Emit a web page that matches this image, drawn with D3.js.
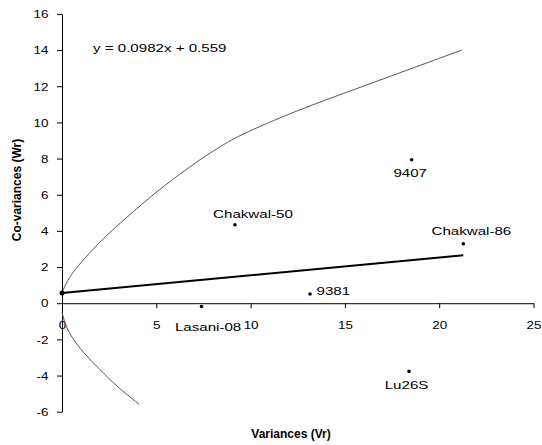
<!DOCTYPE html>
<html>
<head>
<meta charset="utf-8">
<script src="https://cdn.jsdelivr.net/npm/d3@7"></script>
<style>
  html, body { margin: 0; padding: 0; background: #fff; }
  svg { display: block; font-family: Arial, "Liberation Sans", sans-serif; }
</style>
</head>
<body>
<svg id="chart" width="542" height="445"></svg>
<script>
// Vr–Wr graph: array variances against parent–offspring co-variances
const genotypes = ["Chakwal-50", "Chakwal-86", "9407", "9381", "Lasani-08", "Lu26S"];
const variancesVr = [9.17, 21.28, 18.54, 13.15, 7.4, 18.4];
const covariancesWr = [4.34, 3.29, 7.93, 0.51, -0.18, -3.77];

// regression line Wr = b·Vr + a
const slope = 0.0982;
const intercept = 0.559;
const regressionVrRange = [0, 21.28];

// limiting parabola, upper and lower branches (Vr, Wr)
const parabolaUpper = [
  [0, 0.56], [0.2, 1.1], [0.6, 1.75], [1.13, 2.4], [2.19, 3.6], [3.43, 4.75], [5.02, 6.18],
  [5.9, 6.86], [7.14, 7.83], [8.3, 8.6], [9.26, 9.22], [12.27, 10.6],
  [16.5, 12.2], [21.2, 14.0]
];
const parabolaLower = [
  [0, -0.5], [0.15, -1.1], [0.42, -1.75], [1.13, -2.75], [2.01, -3.67], [2.9, -4.6], [4.1, -5.6]
];

const xTicks = [0, 5, 10, 15, 20, 25];
const yTicks = [-6, -4, -2, 0, 2, 4, 6, 8, 10, 12, 14, 16];

// where each genotype label sits relative to its point (dx to label centre / start, dy to baseline)
const labelPlacement = {
  "Chakwal-50": { dx: 18, dy: -7, anchor: "middle" },
  "Chakwal-86": { dx: 8, dy: -9, anchor: "middle" },
  "9407": { dx: -1.5, dy: 17, anchor: "middle" },
  "9381": { dx: 6.5, dy: 1, anchor: "start" },
  "Lasani-08": { dx: 6.5, dy: 25, anchor: "middle" },
  "Lu26S": { dx: -2.5, dy: 18, anchor: "middle" }
};

const svg = d3.select("#chart");
const x = d3.scaleLinear().domain([0, 25]).range([62, 533.5]);
const y = d3.scaleLinear().domain([-6, 16]).range([411.7, 13.9]);

const textStretch = 1.28;
const plainNumber = d => String(d);

// y axis
const yAxisG = svg.append("g")
  .attr("transform", `translate(${x(0)},0)`)
  .call(d3.axisLeft(y).tickValues(yTicks).tickSize(5).tickSizeOuter(0).tickFormat(plainNumber));
yAxisG.select(".domain").attr("stroke", "#000");
yAxisG.selectAll(".tick line").attr("stroke", "#000");
yAxisG.selectAll(".tick text")
  .attr("font-family", "Arial, 'Liberation Sans', sans-serif")
  .attr("font-size", 10.5)
  .attr("fill", "#000")
  .attr("x", -13.5 / textStretch)
  .attr("dy", "0.36em")
  .attr("transform", `scale(${textStretch},1)`);

// x axis through Wr = 0
const xAxisG = svg.append("g")
  .attr("transform", `translate(0,${y(0)})`)
  .call(d3.axisBottom(x).tickValues(xTicks).tickSize(5).tickSizeOuter(0).tickFormat(plainNumber));
xAxisG.select(".domain").attr("stroke", "#000");
xAxisG.selectAll(".tick line").attr("stroke", "#000");
xAxisG.selectAll(".tick text")
  .attr("font-family", "Arial, 'Liberation Sans', sans-serif")
  .attr("font-size", 10.5)
  .attr("fill", "#000")
  .attr("y", 25.5)
  .attr("dy", 0)
  .attr("transform", `scale(${textStretch},1)`);

// parabola
const curveLine = d3.line()
  .x(d => x(d[0]))
  .y(d => y(d[1]))
  .curve(d3.curveBasis);
[parabolaUpper, parabolaLower].forEach(branch => {
  svg.append("path")
    .attr("d", curveLine(branch))
    .attr("fill", "none")
    .attr("stroke", "#555")
    .attr("stroke-width", 1);
});

// regression line
const regPoints = regressionVrRange.map(v => [v, slope * v + intercept]);
svg.append("path")
  .attr("d", d3.line().x(d => x(d[0])).y(d => y(d[1]))(regPoints))
  .attr("fill", "none")
  .attr("stroke", "#000")
  .attr("stroke-width", 2);
svg.append("circle")
  .attr("cx", x(0)).attr("cy", y(intercept))
  .attr("r", 2.5).attr("fill", "#000");

// genotype points
const points = genotypes.map((g, i) => ({ name: g, vr: variancesVr[i], wr: covariancesWr[i] }));
svg.selectAll("circle.pt").data(points).enter().append("circle")
  .attr("class", "pt")
  .attr("cx", d => x(d.vr))
  .attr("cy", d => y(d.wr))
  .attr("r", 1.8)
  .attr("fill", "#000");

svg.selectAll("text.lbl").data(points).enter().append("text")
  .attr("class", "lbl")
  .attr("text-anchor", d => labelPlacement[d.name].anchor)
  .attr("font-size", 11.8)
  .attr("fill", "#000")
  .attr("transform", d => `translate(${x(d.vr) + labelPlacement[d.name].dx},${y(d.wr) + labelPlacement[d.name].dy}) scale(${textStretch},1)`)
  .text(d => d.name);

// regression equation
svg.append("text")
  .attr("transform", `translate(93,52) scale(${textStretch},1)`)
  .attr("font-size", 11.8)
  .attr("fill", "#000")
  .text(`y = ${slope}x + ${intercept}`);

// axis titles
svg.append("text")
  .attr("x", 291).attr("y", 438)
  .attr("text-anchor", "middle")
  .attr("font-size", 12)
  .attr("font-weight", "bold")
  .attr("fill", "#000")
  .text("Variances (Vr)");

svg.append("text")
  .attr("transform", "translate(21,190) rotate(-90)")
  .attr("text-anchor", "middle")
  .attr("font-size", 12)
  .attr("font-weight", "bold")
  .attr("fill", "#000")
  .text("Co-variances (Wr)");
</script>
</body>
</html>
